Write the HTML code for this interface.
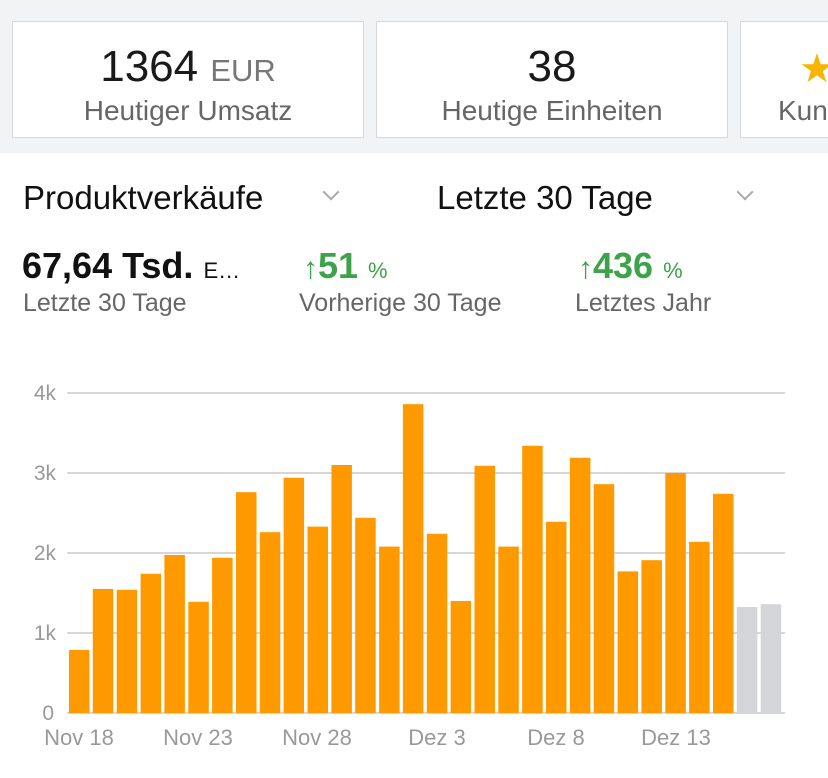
<!DOCTYPE html>
<html><head><meta charset="utf-8"><style>
body{margin:0;width:828px;height:778px;background:#fff;font-family:"Liberation Sans",sans-serif;overflow:hidden;position:relative}
.top{position:absolute;left:0;top:0;width:828px;height:153px;background:#f2f3f5}
.card{position:absolute;top:21px;height:117px;background:#fff;border:1.5px solid #d6d8db;box-sizing:border-box;text-align:center;overflow:hidden}
.big{position:absolute;left:0;right:0;font-size:44px;color:#1a1a1a;line-height:50px}
.big span{font-size:31px;color:#777}
.sub{position:absolute;left:0;right:0;font-size:28px;color:#666;white-space:nowrap}
.t{position:absolute;font-size:33px;color:#111;white-space:nowrap}
.chev{position:absolute;width:10px;height:10px;border-right:2px solid #aaa;border-bottom:2px solid #aaa;transform:rotate(45deg)}
.g{color:#3ea24a}
.s{position:absolute;font-size:25px;color:#666;white-space:nowrap}
</style></head><body>
<div class="top"></div>
<div class="card" style="left:12px;width:352px"><div class="big" style="top:20px">1364 <span>EUR</span></div><div class="sub" style="top:73px">Heutiger Umsatz</div></div>
<div class="card" style="left:376px;width:352px"><div class="big" style="top:20px">38</div><div class="sub" style="top:73px">Heutige Einheiten</div></div>
<div class="card" style="left:740px;width:88px;border-right:none"><div style="position:absolute;left:58px;top:24px;color:#f7b500;font-size:40px">★</div><div class="sub" style="top:73px;text-align:left;left:37px">Kunden</div></div>
<div class="t" style="left:23px;top:179px">Produktverkäufe</div>
<div class="chev" style="left:325px;top:186px"></div>
<div class="t" style="left:437px;top:179px">Letzte 30 Tage</div>
<div class="chev" style="left:739px;top:186px"></div>
<div class="t" style="left:22px;top:245px;font-weight:bold;font-size:36px">67,64 Tsd. <span style="font-size:22px;font-weight:normal">E…</span></div>
<div class="t g" style="left:303px;top:245px;font-size:36px;font-weight:bold"><span style="font-weight:normal;font-size:30px">↑</span>51 <span style="font-size:22px;font-weight:normal">%</span></div>
<div class="t g" style="left:578px;top:245px;font-size:36px;font-weight:bold"><span style="font-weight:normal;font-size:30px">↑</span>436 <span style="font-size:22px;font-weight:normal">%</span></div>
<div class="s" style="left:23px;top:289px">Letzte 30 Tage</div>
<div class="s" style="left:299px;top:289px">Vorherige 30 Tage</div>
<div class="s" style="left:575px;top:289px">Letztes Jahr</div>
<svg width="828" height="778" style="position:absolute;left:0;top:0" font-family="Liberation Sans, sans-serif">
<g stroke="#c8c8cc" stroke-width="1.5">
<line x1="67" x2="785" y1="393" y2="393"/><line x1="67" x2="785" y1="473" y2="473"/><line x1="67" x2="785" y1="553" y2="553"/><line x1="67" x2="785" y1="633" y2="633"/><line x1="67" x2="785" y1="713" y2="713"/>
</g>
<g fill="#999" font-size="21" text-anchor="end">
<text x="56" y="400">4k</text><text x="56" y="480">3k</text><text x="56" y="560">2k</text><text x="56" y="640">1k</text><text x="54" y="720">0</text>
</g>
<g id="bars"></g>
<g fill="#999" font-size="22" text-anchor="middle">
<text x="79" y="745">Nov 18</text><text x="198" y="745">Nov 23</text><text x="317" y="745">Nov 28</text><text x="437" y="745">Dez 3</text><text x="556" y="745">Dez 8</text><text x="676" y="745">Dez 13</text>
</g>
</svg>
<script>
var v=[787,1550,1540,1740,1975,1390,1940,2760,2260,2940,2330,3100,2440,2080,3860,2240,1400,3090,2080,3340,2390,3190,2860,1770,1910,3000,2140,2740,1325,1360];
var g=document.getElementById('bars'),h='';
v.forEach(function(d,i){var x=69+i*23.85,hh=d*0.08;h+='<rect x="'+x.toFixed(1)+'" y="'+(713-hh).toFixed(1)+'" width="20.5" height="'+hh.toFixed(1)+'" fill="'+(i<28?'#ff9900':'#d4d5d8')+'"/>';});
g.innerHTML=h;
</script>
</body></html>
